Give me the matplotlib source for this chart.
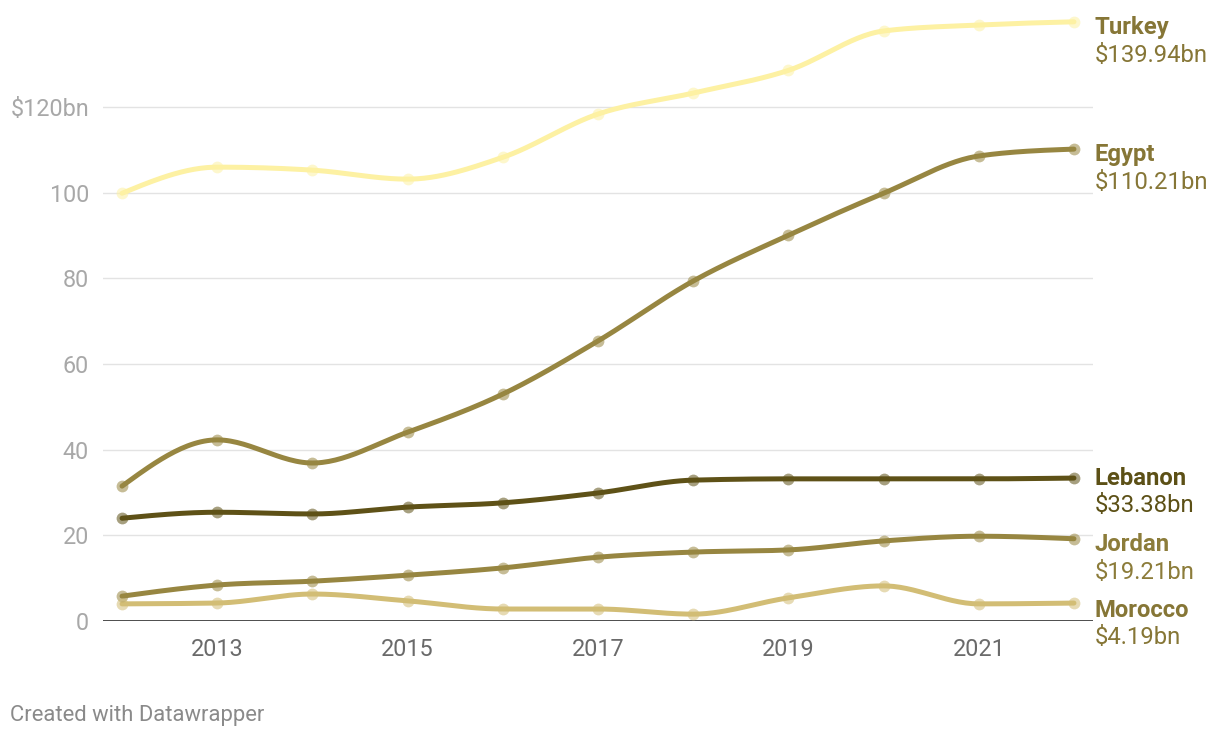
import numpy as np
import matplotlib
matplotlib.use("Agg")
import matplotlib.pyplot as plt

plt.rcParams['font.family'] = ['Roboto', 'DejaVu Sans']

years = [2012, 2013, 2014, 2015, 2016, 2017, 2018, 2019, 2020, 2021, 2022]
turkey = [99.9, 106.0, 105.3, 103.2, 108.3, 118.4, 123.3, 128.6, 137.8, 139.2, 139.94]
egypt = [31.5, 42.3, 36.9, 44.1, 53.0, 65.4, 79.4, 90.1, 99.9, 108.6, 110.21]
lebanon = [24.0, 25.4, 25.0, 26.6, 27.6, 29.9, 32.9, 33.2, 33.2, 33.2, 33.38]
jordan = [5.8, 8.4, 9.3, 10.7, 12.4, 14.9, 16.1, 16.6, 18.7, 19.8, 19.21]
morocco = [4.0, 4.2, 6.3, 4.7, 2.8, 2.8, 1.6, 5.4, 8.2, 4.0, 4.19]

names = ['Turkey', 'Egypt', 'Lebanon', 'Jordan', 'Morocco']
series = [turkey, egypt, lebanon, jordan, morocco]
line_colors = ['#fdf1a3', '#978641', '#5e5117', '#978641', '#d2bd75']
label_colors = ['#867636', '#867636', '#5c5016', '#8c7c3a', '#867636']
# label nudges (points) so the labels don't collide
label_dy = [-4, -4, 0, -4, -5]
yticks = [0, 20, 40, 60, 80, 100, 120]
ytick_labels = ['0', '20', '40', '60', '80', '100', '$120bn']
xticks = [2013, 2015, 2017, 2019, 2021]


def monotone(x, y, n=30):
    # same idea as d3 curveMonotoneX
    x = np.asarray(x, float)
    y = np.asarray(y, float)
    h = np.diff(x)
    s = np.diff(y) / h
    t = np.zeros(len(x))
    for i in range(1, len(x) - 1):
        p = (s[i - 1] * h[i] + s[i] * h[i - 1]) / (h[i - 1] + h[i])
        t[i] = (np.sign(s[i - 1]) + np.sign(s[i])) * min(abs(s[i - 1]), abs(s[i]), 0.5 * abs(p))
    t[0] = (3 * s[0] - t[1]) / 2
    t[-1] = (3 * s[-1] - t[-2]) / 2
    xs, ys = [], []
    for i in range(len(x) - 1):
        u = np.linspace(0, 1, n)
        h00 = 2 * u**3 - 3 * u**2 + 1
        h10 = u**3 - 2 * u**2 + u
        h01 = -2 * u**3 + 3 * u**2
        h11 = u**3 - u**2
        xs.extend(x[i] + u * h[i])
        ys.extend(h00 * y[i] + h10 * h[i] * t[i] + h01 * y[i + 1] + h11 * h[i] * t[i + 1])
    return np.array(xs), np.array(ys)


fig = plt.figure(figsize=(12.2, 7.38), dpi=100)
ax = fig.add_axes([103 / 1220, 117 / 738, 990 / 1220, 608 / 738])

for name, vals, lc, tc, dy in zip(names, series, line_colors, label_colors, label_dy):
    xs, ys = monotone(years, vals)
    ax.plot(xs, ys, color=lc, lw=3.6, solid_capstyle='round', zorder=3, clip_on=False)
    ax.plot(years, vals, 'o', color=lc, alpha=0.55, ms=8.5, mec='none', zorder=4, clip_on=False)
    ax.annotate(name, (years[-1], vals[-1]), xytext=(15, dy), textcoords='offset points',
                ha='left', va='center', fontsize=17.2, fontweight='bold', color=tc,
                annotation_clip=False)
    ax.annotate('$%.2fbn' % vals[-1], (years[-1], vals[-1]), xytext=(15, dy - 20), textcoords='offset points',
                ha='left', va='center', fontsize=17.2, color=tc, annotation_clip=False)

ax.set_xlim(2011.8, 2022.2)
ax.set_ylim(0, 142)
ax.set_yticks(yticks)
ax.set_yticklabels(ytick_labels)
ax.set_xticks(xticks)
ax.set_xticklabels([str(x) for x in xticks])
ax.tick_params(axis='y', length=0, pad=10, labelsize=16.8, labelcolor='#a8a8a8')
ax.tick_params(axis='x', length=0, pad=12, labelsize=16.8, labelcolor='#6a6a6a')
ax.grid(axis='y', color='#e3e3e3', lw=1)
ax.axhline(0, color='#1a1a1a', lw=1.8, zorder=2)
for sp in ax.spines.values():
    sp.set_visible(False)
ax.set_axisbelow(True)

fig.text(10 / 1220, 1 - 715 / 738, 'Created with Datawrapper', fontsize=15.8, color='#8a8a8a',
         ha='left', va='center')

fig.savefig('out.png', dpi=100)
